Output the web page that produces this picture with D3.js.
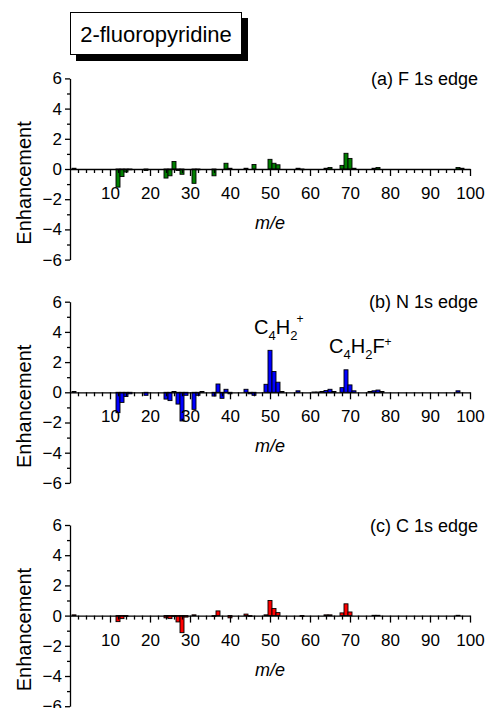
<!DOCTYPE html>
<html><head><meta charset="utf-8">
<script src="https://cdn.jsdelivr.net/npm/d3@7"></script>
<style>
html,body{margin:0;padding:0;background:#fff;}
svg{display:block;font-family:"Liberation Sans",Arial,sans-serif;}
</style></head>
<body>
<svg id="chart" width="486" height="708"></svg>
<script>
// ---- data ----
const titleText = "2-fluoropyridine";
const panelTitles = ["(a) F 1s edge", "(b) N 1s edge", "(c) C 1s edge"];
const panelColors = ["#008000", "#0000ff", "#ff0000"];

const mzF  = [1, 12, 13, 14, 15, 19, 24, 25, 26, 27, 28, 31, 32, 36, 39, 40, 44, 46, 50, 51, 52, 57, 58, 64, 65, 68, 69, 70, 71, 76, 77, 97, 98];
const enhF = [0.05, -1.2, -0.5, -0.2, -0.05, -0.1, -0.6, -0.45, 0.5, -0.1, -0.35, -0.95, -0.05, -0.45, 0.38, 0.05, 0.05, 0.3, 0.64, 0.38, 0.28, 0.05, -0.05, 0.05, 0.1, 0.24, 1.04, 0.7, 0.05, 0.05, 0.1, 0.1, 0.05];

const mzN  = [1, 12, 13, 14, 15, 19, 24, 25, 26, 27, 28, 29, 31, 32, 33, 36, 37, 38, 39, 40, 44, 45, 46, 49, 50, 51, 52, 53, 57, 61, 62, 63, 64, 65, 66, 68, 69, 70, 71, 75, 76, 77, 78, 97];
const enhN = [0.05, -1.35, -0.67, -0.28, -0.1, -0.2, -0.45, -0.55, 0.05, -0.78, -1.9, -0.2, -1.13, -0.2, 0.05, -0.25, 0.55, -0.4, 0.2, -0.1, 0.2, -0.1, -0.2, 0.53, 2.78, 1.38, 0.67, 0.05, 0.1, 0.02, 0.02, 0.05, 0.12, 0.2, 0.05, 0.31, 1.49, 0.49, 0.1, 0.05, 0.1, 0.15, 0.05, 0.1];

const mzC  = [1, 12, 13, 14, 24, 25, 26, 27, 28, 29, 31, 36, 37, 40, 44, 45, 49, 50, 51, 52, 58, 64, 65, 68, 69, 70, 76, 77, 97];
const enhC = [0.05, -0.4, -0.2, -0.05, -0.15, -0.2, -0.05, -0.42, -1.13, -0.1, 0.05, -0.05, 0.31, -0.15, 0.1, -0.05, 0.05, 1.0, 0.47, 0.2, -0.05, 0.05, 0.05, 0.18, 0.78, 0.24, 0.02, 0.02, 0.02];

const xMajorTicks = [10, 20, 30, 40, 50, 60, 70, 80, 90, 100];
const xMinorTicks = d3.range(2, 100, 2).filter(d => d % 10 !== 0);
const yMajorTicks = [-6, -4, -2, 0, 2, 4, 6];
const yMinorTicks = [-5, -3, -1, 1, 3, 5];
const xLabel = "m/e";
const yLabel = "Enhancement";

// ---- layout ----
const svg = d3.select("#chart");
const zeros = [169, 392.3, 615.6];
const halfH = 90.6;
const x = d3.scaleLinear().domain([0, 100]).range([70, 470]);

// title box
svg.append("rect").attr("x", 76).attr("y", 18).attr("width", 172).attr("height", 43).attr("fill", "#000");
svg.append("rect").attr("x", 70.5).attr("y", 12.5).attr("width", 171).attr("height", 42).attr("fill", "#fff").attr("stroke", "#000").attr("stroke-width", 1);
svg.append("text").attr("x", 156).attr("y", 42).attr("text-anchor", "middle").attr("font-size", 22).text(titleText);

const series = [[mzF, enhF], [mzN, enhN], [mzC, enhC]];

series.forEach(([mz, enh], i) => {
  const z = zeros[i];
  const y = d3.scaleLinear().domain([-6, 6]).range([z + halfH, z - halfH]);
  const g = svg.append("g");
  const data = mz.map((m, k) => ({m, v: enh[k]}));

  // bars
  g.selectAll("rect.bar").data(data).enter().append("rect")
    .attr("class", "bar")
    .attr("x", d => x(d.m - 0.5))
    .attr("width", d => x(d.m + 0.5) - x(d.m - 0.5))
    .attr("y", d => y(Math.max(0, d.v)))
    .attr("height", d => Math.abs(y(d.v) - y(0)))
    .attr("fill", panelColors[i])
    .attr("stroke", "#000")
    .attr("stroke-width", 0.9);

  // y axis
  const yAx = g.append("g").attr("transform", `translate(${x(0)},0)`)
    .call(d3.axisLeft(y).tickValues(yMajorTicks).tickSize(5).tickSizeOuter(0).tickPadding(3).tickFormat(d3.format("d")));
  g.append("g").attr("transform", `translate(${x(0)},0)`)
    .call(d3.axisLeft(y).tickValues(yMinorTicks).tickSize(3).tickSizeOuter(0).tickFormat(""))
    .select(".domain").remove();

  // x axis
  const xAx = g.append("g").attr("transform", `translate(0,${y(0)})`)
    .call(d3.axisBottom(x).tickValues(xMajorTicks).tickSize(7).tickSizeOuter(0).tickPadding(11));
  g.append("g").attr("transform", `translate(0,${y(0)})`)
    .call(d3.axisBottom(x).tickValues(xMinorTicks).tickSize(4).tickSizeOuter(0).tickFormat(""))
    .select(".domain").remove();

  g.selectAll(".domain, .tick line").attr("stroke", "#000").attr("stroke-width", 1.3);
  g.selectAll(".tick text").attr("font-size", 17).attr("fill", "#000")
    .attr("font-family", '"Liberation Sans",Arial,sans-serif');

  // axis labels
  g.append("text").attr("x", x(50)).attr("y", z + 60).attr("text-anchor", "middle")
    .attr("font-size", 18).attr("font-style", "italic").text(xLabel);
  g.append("text").attr("transform", `translate(31,${z + 14}) rotate(-90)`)
    .attr("text-anchor", "middle").attr("font-size", 20).text(yLabel);

  // panel title
  g.append("text").attr("x", 478).attr("y", y(6) + 6.5).attr("text-anchor", "end")
    .attr("font-size", 18).text(panelTitles[i]);
});

// annotations in panel (b)
function formula(parts, px, py) {
  const t = svg.append("text").attr("x", px).attr("y", py);
  parts.forEach(p => {
    t.append("tspan").attr("font-size", p.s).attr("dy", p.dy || 0).attr("dx", p.dx || 0).text(p.t);
  });
}
formula([{t: "C", s: 20}, {t: "4", s: 13, dy: 6}, {t: "H", s: 20, dy: -6}, {t: "2", s: 13, dy: 6}, {t: "+", s: 12, dy: -17, dx: -1}], 254, 334);
formula([{t: "C", s: 20}, {t: "4", s: 13, dy: 6}, {t: "H", s: 20, dy: -6}, {t: "2", s: 13, dy: 6}, {t: "F", s: 20, dy: -6}, {t: "+", s: 12, dy: -7, dx: 0}], 329, 353);
</script>
</body></html>
